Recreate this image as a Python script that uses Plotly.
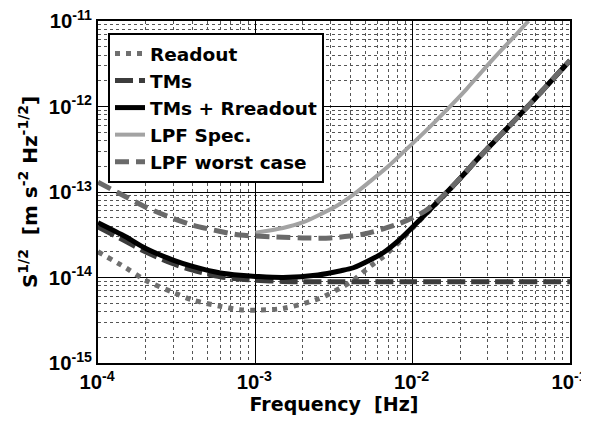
import plotly.graph_objects as go

# ---- data ----
f_main = [1e-4, 1.5e-4, 2e-4, 3e-4, 4e-4, 6e-4, 8e-4, 1e-3, 1.5e-3, 2.5e-3, 3.5e-3, 4.2e-3,
          5.36e-3, 6.5e-3, 8.3e-3, 1e-2, 1.4e-2, 2e-2, 2.7e-2, 4e-2, 5.6e-2, 7.8e-2, 1e-1]
readout = [2.0e-14, 1.3e-14, 9.3e-15, 6.7e-15, 5.45e-15, 4.6e-15, 4.2e-15, 4.15e-15, 4.35e-15,
           5.6e-15, 7.6e-15, 9.3e-15, 1.35e-14, 1.75e-14, 2.65e-14, 3.8e-14, 7.2e-14, 1.43e-13,
           2.65e-13, 5.6e-13, 1.08e-12, 2.1e-12, 3.45e-12]
combined = [4.38e-14, 3.0e-14, 2.2e-14, 1.6e-14, 1.35e-14, 1.13e-14, 1.06e-14, 1.03e-14, 1.0e-14,
            1.07e-14, 1.2e-14, 1.3e-14, 1.6e-14, 1.95e-14, 2.8e-14, 3.9e-14, 7.3e-14, 1.44e-13,
            2.65e-13, 5.6e-13, 1.08e-12, 2.1e-12, 3.45e-12]

f_tms = [1e-4, 1.5e-4, 2e-4, 3e-4, 4e-4, 6e-4, 8e-4, 1e-3, 1.5e-3, 2e-3, 3e-3, 5e-3, 1e-2, 1e-1]
tms = [3.9e-14, 2.65e-14, 2.0e-14, 1.45e-14, 1.22e-14, 1.02e-14, 9.6e-15, 9.3e-15, 9.0e-15,
       8.9e-15, 8.9e-15, 8.9e-15, 8.9e-15, 8.9e-15]

f_spec = [1e-3, 1.5e-3, 2e-3, 2.6e-3, 3.3e-3, 4.2e-3, 5.36e-3, 7e-3, 8.5e-3, 1e-2, 1.36e-2,
          1.8e-2, 2.2e-2, 2.8e-2, 3.6e-2, 4.5e-2, 5.45e-2]
spec = [3.35e-14, 3.8e-14, 4.4e-14, 5.5e-14, 6.9e-14, 9.3e-14, 1.33e-13, 2.0e-13, 2.8e-13,
        3.7e-13, 6.4e-13, 1.08e-12, 1.6e-12, 2.65e-12, 4.4e-12, 6.8e-12, 1.0e-11]

f_worst = [1e-4, 1.5e-4, 2e-4, 3e-4, 4e-4, 6e-4, 8e-4, 1e-3, 1.5e-3, 2e-3, 3e-3, 4e-3, 5e-3,
           6.5e-3, 8.3e-3, 1e-2, 1.2e-2, 1.4e-2, 2e-2, 2.7e-2, 4e-2, 5.6e-2, 7.8e-2, 1e-1]
worst = [1.3e-13, 8.8e-14, 6.7e-14, 4.9e-14, 4.1e-14, 3.45e-14, 3.14e-14, 3.05e-14, 2.95e-14,
         2.9e-14, 2.9e-14, 3.05e-14, 3.25e-14, 3.7e-14, 4.3e-14, 5.0e-14, 6.0e-14, 7.5e-14,
         1.44e-13, 2.65e-13, 5.6e-13, 1.08e-12, 2.1e-12, 3.45e-12]

x_ticks = [1e-4, 1e-3, 1e-2, 1e-1]
x_ticktext = ["<b>10<sup>-4</sup></b>", "<b>10<sup>-3</sup></b>", "<b>10<sup>-2</sup></b>",
              "<b>10<sup>-1</sup></b>"]
y_ticks = [1e-15, 1e-14, 1e-13, 1e-12, 1e-11]
y_ticktext = ["<b>10<sup>-15</sup></b>", "<b>10<sup>-14</sup></b>", "<b>10<sup>-13</sup></b>",
              "<b>10<sup>-12</sup></b>", "<b>10<sup>-11</sup></b>"]

TICKFONT = "Liberation Sans, Arial, sans-serif"
TEXTFONT = "DejaVu Sans, sans-serif"

fig = go.Figure()
sp = dict(shape="spline", smoothing=0.8)
fig.add_trace(go.Scatter(x=f_main, y=readout, mode="lines", name="<b>Readout</b>",
                         line=dict(color="#6f6f6f", width=5, dash="5px,6px", **sp)))
fig.add_trace(go.Scatter(x=f_tms, y=tms, mode="lines", name="<b>TMs</b>",
                         line=dict(color="#3c3c3c", width=5, dash="18px,6px", **sp)))
fig.add_trace(go.Scatter(x=f_main, y=combined, mode="lines", name="<b>TMs + Rreadout</b>",
                         line=dict(color="#000000", width=5, **sp)))
fig.add_trace(go.Scatter(x=f_spec, y=spec, mode="lines", name="<b>LPF Spec.</b>",
                         line=dict(color="#a3a3a3", width=4, **sp)))
fig.add_trace(go.Scatter(x=f_worst, y=worst, mode="lines", name="<b>LPF worst case</b>",
                         line=dict(color="#6a6a6a", width=5, dash="14px,7px", **sp)))

minor_x = [k * 10 ** e for e in range(-4, -1) for k in range(2, 10)]
minor_y = [k * 10 ** e for e in range(-15, -11) for k in range(2, 10)]

axis_common = dict(type="log", showline=True, linecolor="black", linewidth=2, mirror=True,
                   showgrid=True, gridcolor="black", gridwidth=1, ticks="",
                   tickfont=dict(family=TICKFONT, size=20.3, color="black"),
                   ticklabeloverflow="allow",
                   zeroline=False, automargin=False)

fig.update_xaxes(range=[-4, -1], tickmode="array", tickvals=x_ticks, ticktext=x_ticktext,
                 ticklabelshift=-1,
                 minor=dict(tickmode="array", tickvals=minor_x, showgrid=True,
                            gridcolor="#555555", griddash="dot", gridwidth=1),
                 title=dict(text="<b>Frequency&nbsp; [Hz]</b>",
                            font=dict(family=TEXTFONT, size=19, color="black"), standoff=3),
                 **axis_common)
fig.update_yaxes(range=[-15, -11], tickmode="array", tickvals=y_ticks, ticktext=y_ticktext,
                 minor=dict(tickmode="array", tickvals=minor_y, showgrid=True,
                            gridcolor="#555555", griddash="dot", gridwidth=1),
                 title=dict(text="<b>S<sup>1/2</sup>&nbsp; [m s<sup>-2</sup> Hz<sup>-1/2</sup>]</b>",
                            font=dict(family=TEXTFONT, size=20, color="black"), standoff=6),
                 **axis_common)

# The page body adds an 8px margin, so the figure is sized 8px smaller to fit the window.
fig.update_layout(
    width=581, height=413,
    margin=dict(l=90, r=19, t=13, b=58),
    paper_bgcolor="white", plot_bgcolor="white",
    font=dict(family=TEXTFONT, color="black"),
    legend=dict(x=0.0212, y=0.965, xanchor="left", yanchor="top",
                bgcolor="white", bordercolor="black", borderwidth=2,
                font=dict(family=TEXTFONT, size=18.5, color="black"),
                tracegroupgap=0, itemwidth=30),
)

fig.write_html("out.html")
